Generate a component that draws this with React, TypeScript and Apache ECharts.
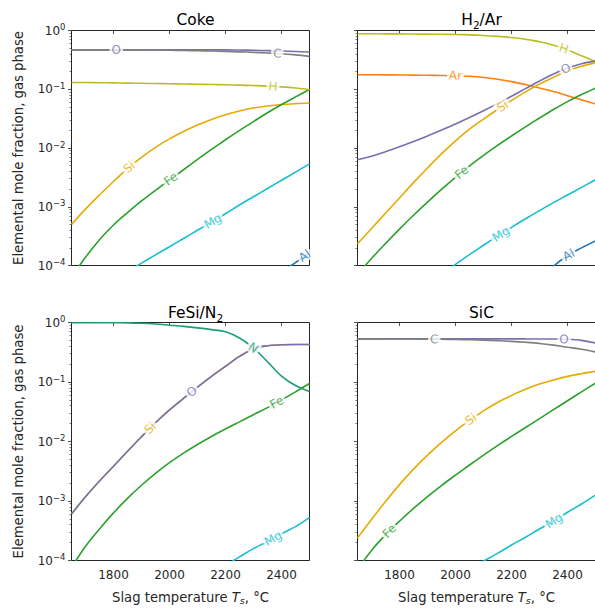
import { useEffect, useRef } from 'react';
import * as echarts from 'echarts';

// Slag temperature grid, °C
const T_C = [1650, 1700, 1750, 1800, 1850, 1900, 1950, 2000, 2050, 2100, 2150, 2200, 2250, 2300, 2350, 2400, 2450, 2500];
const X_TICKS = [1800, 2000, 2200, 2400];
const Y_DECADES = [-4, -3, -2, -1, 0];
const MINOR_FACTORS = [2, 3, 4, 5, 6, 7, 8, 9];

// All series values are log10(elemental mole fraction)
// Coke
const COKE_O = [-0.33, -0.33, -0.33, -0.33, -0.33, -0.33, -0.33, -0.33, -0.33, -0.33, -0.33, -0.33, -0.333, -0.337, -0.343, -0.35, -0.358, -0.367];
const COKE_C = [-0.33, -0.33, -0.33, -0.33, -0.33, -0.33, -0.33, -0.335, -0.34, -0.345, -0.35, -0.356, -0.363, -0.372, -0.383, -0.396, -0.415, -0.44];
const COKE_H = [-0.884, -0.886, -0.889, -0.892, -0.895, -0.899, -0.903, -0.907, -0.911, -0.915, -0.919, -0.924, -0.93, -0.937, -0.946, -0.96, -0.98, -1.008];
const COKE_SI = [-3.3, -3.04, -2.8, -2.57, -2.35, -2.16, -1.99, -1.845, -1.72, -1.61, -1.515, -1.435, -1.37, -1.32, -1.285, -1.26, -1.245, -1.235];
const COKE_FE = [-4.2, -3.86, -3.56, -3.31, -3.1, -2.9, -2.72, -2.545, -2.37, -2.195, -2.025, -1.86, -1.7, -1.55, -1.4, -1.26, -1.13, -1.005];
const COKE_MG = [null, null, null, null, -4.1, -3.96, -3.82, -3.68, -3.54, -3.4, -3.26, -3.12, -2.97, -2.83, -2.69, -2.55, -2.41, -2.27];
const COKE_AL = [null, null, null, null, null, null, null, null, null, null, null, null, null, null, -4.25, -4.1, -3.95, -3.78];

// H2/Ar
const H2_H = [-0.055, -0.056, -0.057, -0.058, -0.06, -0.062, -0.065, -0.068, -0.075, -0.085, -0.1, -0.12, -0.15, -0.19, -0.25, -0.33, -0.43, -0.53];
const H2_AR = [-0.753, -0.754, -0.755, -0.757, -0.759, -0.762, -0.765, -0.77, -0.78, -0.8, -0.83, -0.87, -0.92, -0.98, -1.04, -1.11, -1.18, -1.25];
const H2_O = [-2.2, -2.14, -2.065, -1.98, -1.89, -1.795, -1.695, -1.59, -1.48, -1.365, -1.245, -1.12, -0.99, -0.86, -0.74, -0.64, -0.565, -0.52];
const H2_SI = [-3.63, -3.37, -3.11, -2.85, -2.59, -2.34, -2.1, -1.88, -1.68, -1.51, -1.345, -1.19, -1.045, -0.91, -0.795, -0.69, -0.61, -0.55];
const H2_FE = [-4.15, -3.88, -3.625, -3.38, -3.145, -2.92, -2.705, -2.5, -2.305, -2.125, -1.955, -1.795, -1.64, -1.49, -1.345, -1.21, -1.09, -0.98];
const H2_MG = [null, null, null, null, null, null, -4.15, -3.98, -3.815, -3.655, -3.5, -3.35, -3.205, -3.065, -2.93, -2.8, -2.67, -2.54];
const H2_AL = [null, null, null, null, null, null, null, null, null, null, null, null, null, -4.2, -4.01, -3.83, -3.7, -3.58];

// FeSi/N2
const FESI_N = [-0.002, -0.002, -0.003, -0.004, -0.006, -0.012, -0.025, -0.045, -0.065, -0.09, -0.12, -0.155, -0.26, -0.43, -0.66, -0.9, -1.06, -1.16];
const FESI_O = [-3.22, -2.93, -2.665, -2.415, -2.165, -1.92, -1.685, -1.47, -1.275, -1.085, -0.905, -0.735, -0.57, -0.44, -0.39, -0.375, -0.37, -0.37];
const FESI_SI = [-3.22, -2.93, -2.665, -2.415, -2.165, -1.92, -1.685, -1.47, -1.275, -1.085, -0.905, -0.735, -0.57, -0.44, -0.39, -0.375, -0.37, -0.37];
const FESI_FE = [-4.12, -3.76, -3.47, -3.2, -2.955, -2.735, -2.535, -2.355, -2.195, -2.05, -1.915, -1.79, -1.67, -1.55, -1.43, -1.3, -1.165, -1.025];
const FESI_MG = [null, null, null, null, null, null, null, null, null, null, -4.22, -4.08, -3.94, -3.8, -3.68, -3.55, -3.43, -3.28];

// SiC
const SIC_C = [-0.275, -0.275, -0.276, -0.277, -0.278, -0.28, -0.282, -0.285, -0.29, -0.297, -0.306, -0.318, -0.333, -0.352, -0.38, -0.415, -0.45, -0.495];
const SIC_O = [-0.275, -0.275, -0.275, -0.275, -0.275, -0.275, -0.275, -0.275, -0.275, -0.275, -0.275, -0.275, -0.276, -0.277, -0.278, -0.282, -0.3, -0.345];
const SIC_SI = [-3.62, -3.31, -3.01, -2.725, -2.465, -2.23, -2.015, -1.82, -1.645, -1.485, -1.345, -1.225, -1.12, -1.035, -0.965, -0.905, -0.86, -0.82];
const SIC_FE = [-4.15, -3.83, -3.57, -3.34, -3.125, -2.925, -2.74, -2.565, -2.395, -2.23, -2.07, -1.915, -1.765, -1.615, -1.465, -1.315, -1.165, -1.02];
const SIC_MG = [null, null, null, null, null, null, null, null, -4.14, -4.01, -3.88, -3.74, -3.61, -3.47, -3.34, -3.19, -3.05, -2.9];

const FONT = 'DejaVu Sans';
const INK = '#262626';
const COLORS: Record<string, string> = {
  O: '#7570b3',
  C: '#7f7f7f',
  H: '#bcbd22',
  Si: '#e6ab02',
  Fe: '#2ca02c',
  Mg: '#17becf',
  Al: '#1f77b4',
  Ar: '#ff7f0e',
  N: '#1b9e77',
};

type LineDef = { el: string; data: (number | null)[] };
type LabelDef = { el: string; at: number };
type PanelDef = { title: string; lines: LineDef[]; labels: LabelDef[] };

const PANELS: PanelDef[] = [
  {
    title: 'Coke',
    lines: [
      { el: 'Si', data: COKE_SI },
      { el: 'Fe', data: COKE_FE },
      { el: 'Mg', data: COKE_MG },
      { el: 'Al', data: COKE_AL },
      { el: 'H', data: COKE_H },
      { el: 'O', data: COKE_O },
      { el: 'C', data: COKE_C },
    ],
    labels: [
      { el: 'O', at: 1810 },
      { el: 'C', at: 2385 },
      { el: 'H', at: 2370 },
      { el: 'Si', at: 1856 },
      { el: 'Fe', at: 2005 },
      { el: 'Mg', at: 2155 },
      { el: 'Al', at: 2483 },
    ],
  },
  {
    title: 'H{sub|2}/Ar',
    lines: [
      { el: 'Ar', data: H2_AR },
      { el: 'H', data: H2_H },
      { el: 'Fe', data: H2_FE },
      { el: 'Mg', data: H2_MG },
      { el: 'Al', data: H2_AL },
      { el: 'Si', data: H2_SI },
      { el: 'O', data: H2_O },
    ],
    labels: [
      { el: 'H', at: 2387 },
      { el: 'Ar', at: 2000 },
      { el: 'O', at: 2394 },
      { el: 'Si', at: 2168 },
      { el: 'Fe', at: 2022 },
      { el: 'Mg', at: 2162 },
      { el: 'Al', at: 2404 },
    ],
  },
  {
    title: 'FeSi/N{sub|2}',
    lines: [
      { el: 'Si', data: FESI_SI },
      { el: 'O', data: FESI_O },
      { el: 'Fe', data: FESI_FE },
      { el: 'Mg', data: FESI_MG },
      { el: 'N', data: FESI_N },
    ],
    labels: [
      { el: 'N', at: 2299 },
      { el: 'O', at: 2080 },
      { el: 'Si', at: 1931 },
      { el: 'Fe', at: 2383 },
      { el: 'Mg', at: 2370 },
    ],
  },
  {
    title: 'SiC',
    lines: [
      { el: 'O', data: SIC_O },
      { el: 'C', data: SIC_C },
      { el: 'Si', data: SIC_SI },
      { el: 'Fe', data: SIC_FE },
      { el: 'Mg', data: SIC_MG },
    ],
    labels: [
      { el: 'C', at: 1924 },
      { el: 'O', at: 2388 },
      { el: 'Si', at: 2055 },
      { el: 'Fe', at: 1764 },
      { el: 'Mg', at: 2352 },
    ],
  },
];

const X_MIN = 1650;
const X_MAX = 2500;
const Y_MIN = -4;
const Y_MAX = 0;

const GRIDS = [
  { left: 71.5, top: 30.5, width: 238, height: 235 },
  { left: 357.5, top: 30.5, width: 238, height: 235 },
  { left: 71.5, top: 322.5, width: 238, height: 238 },
  { left: 357.5, top: 322.5, width: 238, height: 238 },
];

function labelPoint(data: (number | null)[], at: number, grid: { width: number; height: number }) {
  for (let i = 0; i < T_C.length - 1; i++) {
    if (at >= T_C[i] && at <= T_C[i + 1]) {
      const a = data[i];
      const b = data[i + 1];
      if (a == null || b == null) return null;
      const f = (at - T_C[i]) / (T_C[i + 1] - T_C[i]);
      const y = a + f * (b - a);
      const dx = ((T_C[i + 1] - T_C[i]) / (X_MAX - X_MIN)) * grid.width;
      const dy = ((b - a) / (Y_MAX - Y_MIN)) * grid.height;
      const rot = (Math.atan2(dy, dx) * 180) / Math.PI;
      return { y, rot };
    }
  }
  return null;
}

function buildOption() {
  const minorValues: number[] = [];
  for (let d = -4; d < 0; d++) {
    for (const k of MINOR_FACTORS) minorValues.push(d + Math.log10(k));
  }
  const tickLine = { color: INK, width: 0.8 };

  const titles = PANELS.map((p, g) => ({
    text: p.title,
    left: GRIDS[g].left + GRIDS[g].width / 2,
    top: g < 2 ? 5 : 298,
    textAlign: 'center',
    textStyle: {
      fontFamily: FONT,
      fontSize: 15.5,
      fontWeight: 'normal',
      color: '#000',
      lineHeight: 20,
      rich: {
        sub: { fontFamily: FONT, fontSize: 10.5, color: '#000', verticalAlign: 'bottom', lineHeight: 12 },
      },
    },
  }));

  const grids = GRIDS.map((r) => ({
    left: r.left,
    top: r.top,
    width: r.width,
    height: r.height,
    show: true,
    borderColor: INK,
    borderWidth: 1,
    backgroundColor: 'transparent',
    containLabel: false,
    outerBoundsMode: 'none',
  }));

  const xAxes = GRIDS.map((_, g) => ({
    gridIndex: g,
    type: 'value',
    min: X_MIN,
    max: X_MAX,
    axisLine: { show: false },
    axisTick: { show: true, customValues: X_TICKS, length: 3.5, lineStyle: tickLine },
    axisLabel: {
      show: g >= 2,
      customValues: X_TICKS,
      formatter: (v: number) => String(v),
      fontFamily: FONT,
      fontSize: 12,
      color: INK,
      margin: 8,
    },
    splitLine: { show: false },
    name: g >= 2 ? 'Slag temperature {i|T}{sub|s}, °C' : '',
    nameLocation: 'middle',
    nameGap: 28,
    nameTextStyle: {
      fontFamily: FONT,
      fontSize: 13.2,
      color: INK,
      lineHeight: 17,
      rich: {
        i: { fontFamily: FONT, fontSize: 13.2, fontStyle: 'italic', color: INK, lineHeight: 17 },
        sub: { fontFamily: FONT, fontSize: 9.5, fontStyle: 'italic', color: INK, verticalAlign: 'bottom', lineHeight: 11 },
      },
    },
  }));

  const yAxes: any[] = [];
  GRIDS.forEach((_, g) => {
    const left = g % 2 === 0;
    yAxes.push({
      gridIndex: g,
      type: 'value',
      position: 'left',
      min: Y_MIN,
      max: Y_MAX,
      axisLine: { show: false },
      axisTick: { show: true, customValues: Y_DECADES, length: 3.5, lineStyle: tickLine },
      axisLabel: {
        show: left,
        customValues: Y_DECADES,
        formatter: (v: number) => {
          const e = Math.round(v);
          return '10{sup|' + (e < 0 ? '\u2212' + -e : String(e)) + '}';
        },
        fontFamily: FONT,
        fontSize: 12,
        color: INK,
        lineHeight: 16,
        margin: 6,
        rich: {
          sup: { fontFamily: FONT, fontSize: 8.5, color: INK, verticalAlign: 'top', lineHeight: 9 },
        },
      },
      splitLine: { show: false },
      name: left ? 'Elemental mole fraction, gas phase' : '',
      nameLocation: 'middle',
      nameGap: 47,
      nameTextStyle: { fontFamily: FONT, fontSize: 13.2, color: INK },
    });
    yAxes.push({
      gridIndex: g,
      type: 'value',
      position: 'left',
      min: Y_MIN,
      max: Y_MAX,
      axisLine: { show: false },
      axisTick: { show: true, customValues: minorValues, length: 2, lineStyle: { color: INK, width: 0.6 } },
      axisLabel: { show: false },
      splitLine: { show: false },
    });
  });

  const series: any[] = [];
  PANELS.forEach((p, g) => {
    p.lines.forEach((ln, k) => {
      series.push({
        type: 'line',
        name: ln.el,
        xAxisIndex: g,
        yAxisIndex: 2 * g,
        data: T_C.map((t, i) => [t, ln.data[i] == null ? '-' : ln.data[i]]),
        smooth: 0.35,
        showSymbol: false,
        symbol: 'none',
        lineStyle: { color: COLORS[ln.el], width: 1.6 },
        itemStyle: { color: COLORS[ln.el] },
        z: 2 + k * 0.01,
        silent: true,
        clip: true,
      });
    });
    const labelData: any[] = [];
    p.labels.forEach((lb) => {
      const ln = p.lines.find((l) => l.el === lb.el);
      if (!ln) return;
      const pt = labelPoint(ln.data, lb.at, GRIDS[g]);
      if (!pt) return;
      labelData.push({
        value: [lb.at, pt.y],
        label: {
          show: true,
          position: 'inside',
          formatter: lb.el,
          color: COLORS[lb.el],
          rotate: pt.rot,
          fontFamily: FONT,
          fontSize: 12,
          backgroundColor: '#ffffff',
          padding: [0, 2],
          lineHeight: 12,
        },
      });
    });
    series.push({
      type: 'scatter',
      xAxisIndex: g,
      yAxisIndex: 2 * g,
      symbolSize: 0,
      silent: true,
      z: 10,
      clip: false,
      data: labelData,
    });
  });

  return {
    animation: false,
    backgroundColor: '#ffffff',
    title: titles,
    grid: grids,
    xAxis: xAxes,
    yAxis: yAxes,
    series,
  };
}

export default function App() {
  const ref = useRef<HTMLDivElement>(null);
  useEffect(() => {
    if (!ref.current) return;
    const chart = echarts.init(ref.current, undefined, { renderer: 'svg' });
    chart.setOption(buildOption() as any);
    return () => chart.dispose();
  }, []);
  return (
    <div
      ref={ref}
      style={{ position: 'absolute', left: 0, top: 0, width: 595, height: 610 }}
    />
  );
}
